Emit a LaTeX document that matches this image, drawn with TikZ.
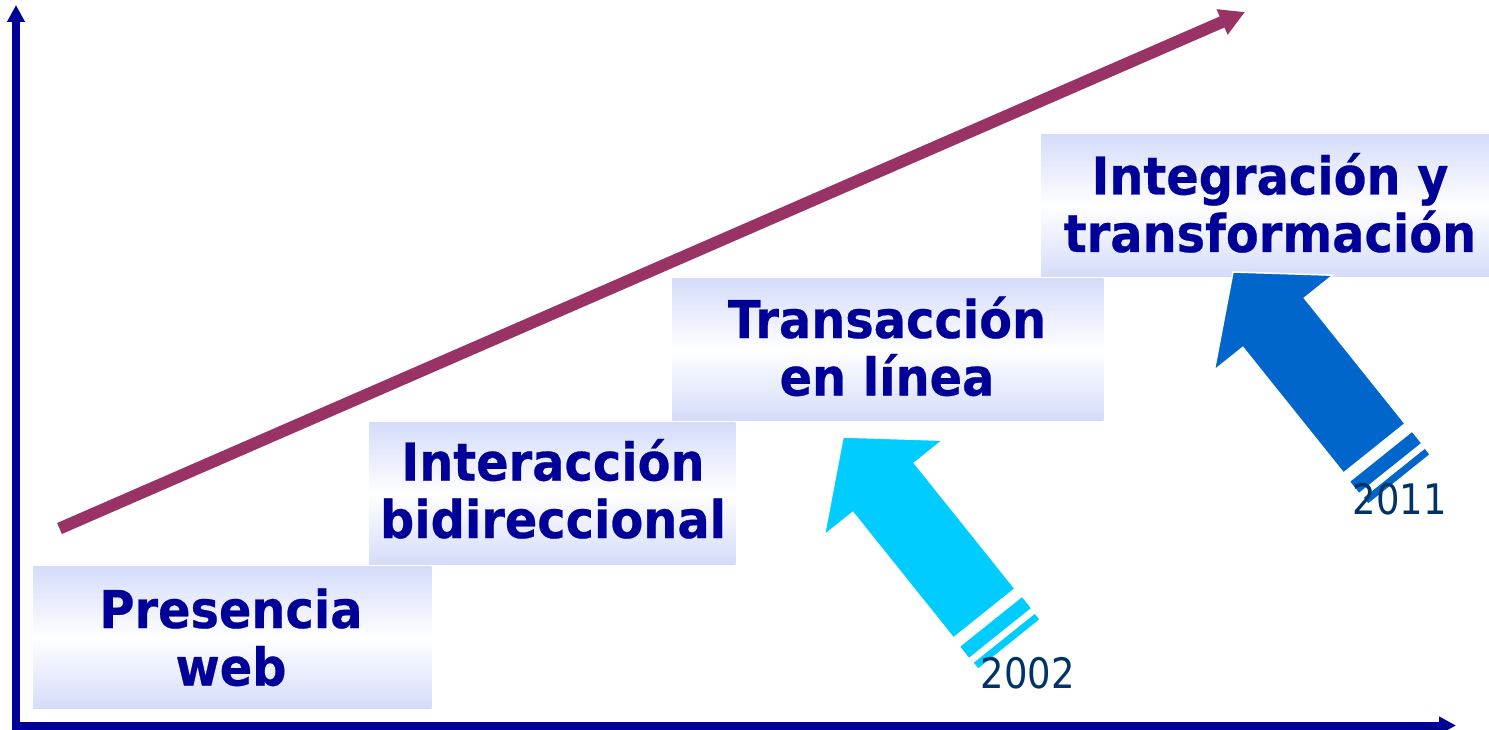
\documentclass[tikz,border=0pt]{standalone}
\usepackage{fontspec}
\newfontfamily\lblfont{DejaVu Sans}[FakeStretch=0.92, BoldFeatures={FakeBold=0.5}]
\newfontfamily\yrfont{DejaVu Sans}[FakeStretch=0.88]
\usetikzlibrary{arrows.meta}
\definecolor{txtblue}{RGB}{0,0,153}
\definecolor{axisblue}{RGB}{0,0,153}
\definecolor{plum}{RGB}{153,51,102}
\definecolor{boxblue}{RGB}{212,220,250}
\definecolor{cyanarrow}{RGB}{0,204,255}
\definecolor{bluearrow}{RGB}{0,102,204}
\definecolor{yearcol}{RGB}{0,51,102}
\tikzset{
  stage/.style={rectangle, inner sep=0pt, draw=none, top color=boxblue, bottom color=boxblue, middle color=white, anchor=south west, minimum height=71pt},
  stagetext/.style={font=\lblfont\bfseries\fontsize{26}{28.75}\selectfont, text=txtblue, align=center, anchor=base, inner sep=0pt},
  yearlabel/.style={font=\yrfont\fontsize{21}{24}\selectfont, text=yearcol, anchor=base, inner sep=0pt},
  axisline/.style={draw=axisblue, line width=4pt, line join=miter, {Triangle[length=8.5pt,width=8.5pt]}-{Triangle[length=8.5pt,width=8.5pt]}},
  trendline/.style={draw=plum, line width=6pt, -{Triangle[length=12.5pt,width=13pt]}},
  pics/bigarrow/.style={code={
    \fill[#1, draw=white, line width=0.75pt] (0,0) -- (-65,76) -- (-65,39.5) -- (-226,39.5) -- (-226,-39.5) -- (-65,-39.5) -- (-65,-76) -- cycle;
    \fill[#1] (-237,-39.5) rectangle (-251,39.5);
    \fill[#1] (-258,-39) rectangle (-265,39);
  }}
}
\begin{document}
\begin{tikzpicture}[x=0.5pt,y=0.5pt]
\useasboundingbox (0,0) rectangle (1489,729);
% boxes
\node[stage, minimum width=199pt] (b1) at (33,20) {};
\node[stage, minimum width=183pt] (b2) at (369,164) {};
\node[stage, minimum width=215.5pt] (b3) at (672,308) {};
\node[stage, minimum width=229.5pt] (b4) at (1041,452) {};
% axes
\coordinate (ytip) at (16,724);
\coordinate (origin) at (16,3.5);
\coordinate (xtip) at (1456,3.5);
\draw[axisline] (ytip) -- (origin) -- (xtip);
% trend arrow
\coordinate (mstart) at (59.5,200.5);
\coordinate (mtip) at (1245,717);
\draw[trendline] (mstart) -- (mtip);
% block arrows
\pic[rotate=128.7] at (843,292) {bigarrow=cyanarrow};
\pic[rotate=128.7] at (1233,457) {bigarrow=bluearrow};
% texts (anchor = baseline of last line)
\node[stagetext] (t1) at (231,43.5) {Presencia\\web};
\node[stagetext] (t2) at (553,191) {Interacción\\bidireccional};
\node[stagetext] (t3) at (887,333.5) {Transacción\\en línea};
\node[stagetext] (t4) at (1270,477) {Integración y\\transformación};
\node[yearlabel] (y1) at (1028,41) {2002};
\node[yearlabel] (y2) at (1400,214) {2011};
\end{tikzpicture}
\end{document}
